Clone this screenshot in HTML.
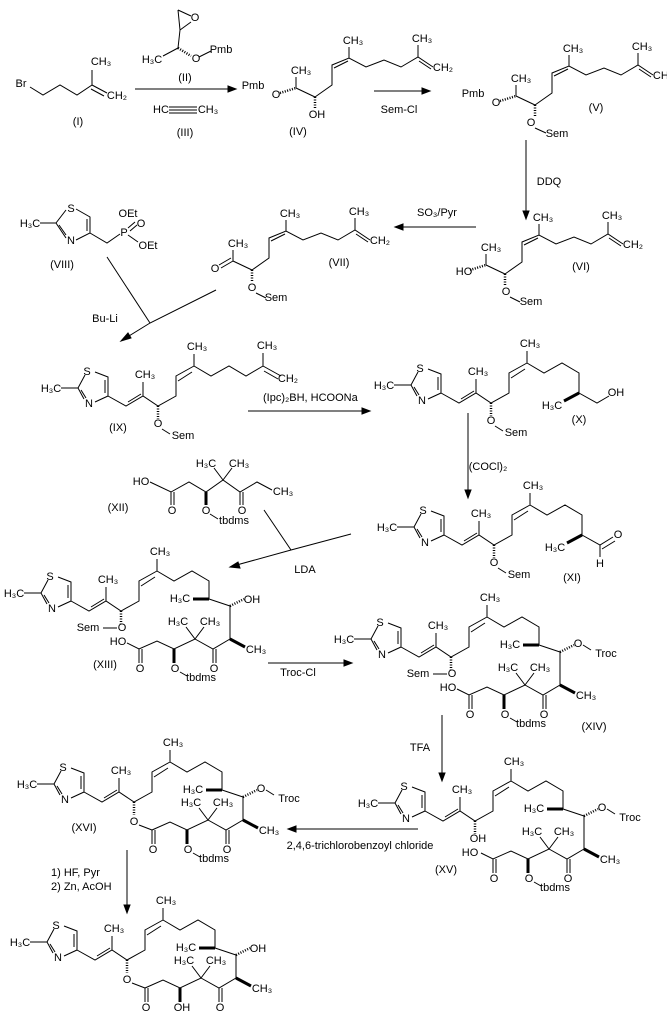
<!DOCTYPE html>
<html><head><meta charset="utf-8"><style>
html,body{margin:0;padding:0;background:#fff}
svg{display:block}
text{font-family:"Liberation Sans",sans-serif;font-size:11px;fill:#000;text-anchor:middle}
.l{text-anchor:start}
path{fill:none;stroke:#000;stroke-width:1}
.h{stroke-dasharray:1,1.5;stroke-width:2.5}
.b{stroke-width:3}
</style></head><body>
<svg width="667" height="1021" viewBox="0 0 667 1021" xmlns="http://www.w3.org/2000/svg">
<defs>
<g id="ring">
<path d="M64,46 L77,51 L77,70 L64,76 M53,73 L47,62 L54,49 M74,54 L74,67 M50,64 L55,72 M30,62 L47,62 M77,70 L95,80 L112,70 L127,80 L145,70 L145,50 L163,40 M97,76 L110,68 M112,70 L112,56 M147,55 L161,46 M163,40 L163,28"/>
<path class="h" d="M127,80 L127,93"/>
</g>
<g id="macro">
<path d="M163,40 L180,50 L198,40 L215,50 L215,68 L236,75 L236,98 L219,108 L201,98 L180,108 L163,100 L145,108 M201,98 L192,86 M201,98 L210,86 M145,108 L145,122 M148,108 L148,122 M219,108 L219,122 M222,108 L222,122"/>
<path class="b" d="M215,68 L199,68 M236,98 L251,106 M180,108 L180,122"/>
<path class="h" d="M236,75 L250,68"/>
</g>
<g id="macroO">
<path d="M163,40 L180,50 L198,40 L215,50 L215,68 L236,75 L236,108 L219,118 L201,108 L180,118 L163,110 L145,118 L133,112 M201,108 L192,96 M201,108 L210,96 M145,118 L145,132 M148,118 L148,132 M219,118 L219,132 M222,118 L222,132"/>
<path class="b" d="M215,68 L199,68 M236,108 L251,116 M180,118 L180,132"/>
<path class="h" d="M236,75 L250,68"/>
</g>
<g id="head"><path d="M296,88 L315,97 M296,88 L296,77"/><path class="h" d="M280,93 L296,88"/></g>
<g id="chain"><path d="M315,97 L332,85 L332,65 L349,58 L366,67 L384,60 L401,67 L418,57 L433,67 M349,58 L349,47 M418,57 L418,45 M334,68 L348,61 M419,61 L431,69"/></g>
</defs>

<text x="21" y="87">Br</text>
<path d="M30,87 L43,95 L60,85 L77,95 L92,85 L92,70 M92,85 L107,93 M91,89 L104,96"/>
<text x="101" y="65">CH₃</text><text x="117" y="99">CH₂</text>
<text x="78" y="125">(I)</text>
<path d="M135,89 L233,89"/><path d="M228,86 L236,89 L228,92Z" style="fill:#000"/>
<path d="M178,10 L191,16 M180,30 L191,22 M178,10 L180,30 M180,30 L178,48 M178,48 L163,56"/>
<path class="h" d="M178,48 L191,56"/>
<path d="M199,57 L211,51"/>
<text x="195" y="21">O</text><text x="152" y="63">H₃C</text><text x="196" y="62">O</text><text x="221" y="53">Pmb</text>
<text x="185" y="81">(II)</text>
<text x="161" y="113">HC</text><path d="M169,107 L197,107 M169,110 L197,110 M169,113 L197,113"/><text x="208" y="113">CH₃</text>
<text x="185" y="136">(III)</text>

<use href="#head"/><use href="#chain"/><path class="h" d="M315,97 L315,108"/>
<text x="253" y="89">Pmb</text><text x="276" y="98">O</text><text x="301" y="74">CH₃</text><text x="317" y="118">OH</text>
<text x="353" y="44">CH₃</text><text x="422" y="42">CH₃</text><text x="443" y="71">CH₂</text>
<text x="298" y="135">(IV)</text>
<path d="M374,91 L427,91"/><path d="M422,88 L430,91 L422,94Z" style="fill:#000"/>
<text x="399" y="113">Sem-Cl</text>
<g transform="translate(220,8)"><use href="#head"/><use href="#chain"/><path class="h" d="M315,97 L315,109"/>
<text x="253" y="89">Pmb</text><text x="276" y="98">O</text><text x="301" y="74">CH₃</text><text x="311" y="118">O</text><path d="M315,120 L326,125"/><text x="337" y="129">Sem</text>
<text x="353" y="44">CH₃</text><text x="422" y="42">CH₃</text><text x="443" y="71">CH₂</text></g>
<text x="596" y="111">(V)</text>
<path d="M526,140 L526,216"/><path d="M523,211 L526,219 L529,211Z" style="fill:#000"/>
<text x="549" y="185">DDQ</text>
<g transform="translate(190,177)"><use href="#head"/><use href="#chain"/><path class="h" d="M315,97 L315,109"/>
<text x="274" y="98">HO</text><text x="301" y="74">CH₃</text><text x="316" y="118">O</text><path d="M320,120 L330,125"/><text x="341" y="128">Sem</text>
<text x="353" y="44">CH₃</text><text x="422" y="42">CH₃</text><text x="443" y="71">CH₂</text></g>
<text x="581" y="270">(VI)</text>
<path d="M476,227 L398,227"/><path d="M403,224 L395,227 L403,230Z" style="fill:#000"/>
<text x="437" y="216">SO₃/Pyr</text>
<g transform="translate(-63,173)"><use href="#chain"/><path class="h" d="M315,97 L315,109"/>
<path d="M296,88 L315,97 M296,88 L296,77 M296,88 L284,95 M294,85 L282,92"/>
<text x="278" y="99">O</text><text x="301" y="74">CH₃</text><text x="315" y="118">O</text><path d="M319,120 L329,125"/><text x="339" y="128">Sem</text>
<text x="353" y="44">CH₃</text><text x="422" y="42">CH₃</text><text x="443" y="71">CH₂</text></g>
<text x="339" y="266">(VII)</text>
<path d="M76,209 L90,217 L90,233 L76,240 M66,238 L56,223 L66,210 M87,219 L87,231 M59,225 L66,235 M40,223 L56,223 M90,233 L107,243 L120,234 M128,228 L135,222 M130,231 L137,225 M128,235 L138,242"/>
<text x="71" y="212">S</text><text x="71" y="244">N</text><text x="30" y="227">H₃C</text><text x="124" y="236">P</text>
<text x="128" y="217">OEt</text><text x="141" y="227">O</text><text x="148" y="249">OEt</text>
<text x="62" y="268">(VIII)</text>
<path d="M107,257 L150,323 M216,290 L150,323 L124,339"/><path d="M128,333 L121,341 L131,338Z" style="fill:#000"/>
<text x="105" y="322">Bu-Li</text>

<g transform="translate(31,326)"><use href="#ring"/>
<path d="M163,40 L180,50 L198,40 L215,50 L232,40 L232,27 M232,40 L250,50 M233,45 L247,53"/>
<text x="56" y="49">S</text><text x="58" y="81">N</text><text x="20" y="66">H₃C</text><text x="114" y="52">CH₃</text><text x="166" y="24">CH₃</text>
<text x="236" y="23">CH₃</text><text x="257" y="56">CH₂</text>
<text x="127" y="101">O</text><path d="M131,103 L139,108"/><text x="152" y="113">Sem</text></g>
<text x="118" y="431">(IX)</text>
<path d="M248,411 L367,411"/><path d="M362,408 L370,411 L362,414Z" style="fill:#000"/>
<text x="263" y="401" class="l">(Ipc)₂BH, HCOONa</text>
<g transform="translate(364,323)"><use href="#ring"/>
<path d="M163,40 L180,50 L198,40 L215,50 L215,70 L233,80 L245,73"/><path class="b" d="M215,70 L200,78"/>
<text x="56" y="49">S</text><text x="58" y="81">N</text><text x="20" y="66">H₃C</text><text x="114" y="52">CH₃</text><text x="166" y="24">CH₃</text>
<text x="188" y="86">H₃C</text><text x="252" y="73">OH</text>
<text x="127" y="101">O</text><path d="M131,103 L139,108"/><text x="152" y="113">Sem</text></g>
<text x="579" y="423">(X)</text>
<path d="M468,413 L468,495"/><path d="M465,490 L468,498 L471,490Z" style="fill:#000"/>
<text x="488" y="470">(COCl)₂</text>
<g transform="translate(367,465)"><use href="#ring"/>
<path d="M163,40 L180,50 L198,40 L215,50 L215,70 L233,80 L246,72 M235,84 L248,76 M233,80 L233,92"/><path class="b" d="M215,70 L200,78"/>
<text x="56" y="49">S</text><text x="58" y="81">N</text><text x="20" y="66">H₃C</text><text x="114" y="52">CH₃</text><text x="166" y="24">CH₃</text>
<text x="188" y="86">H₃C</text><text x="251" y="73">O</text><text x="233" y="102">H</text>
<text x="127" y="101">O</text><path d="M131,103 L139,108"/><text x="152" y="113">Sem</text></g>
<text x="572" y="581">(XI)</text>
<path d="M150,482 L171,492 L189,482 L206,492 L223,480 L240,492 L257,482 L272,490 M171,492 L171,505 M174,492 L174,505 M240,492 L240,505 M243,492 L243,505 M223,480 L214,468 M223,480 L232,468"/>
<path class="b" d="M206,492 L206,505"/>
<text x="141" y="485">HO</text><text x="172" y="514">O</text><text x="206" y="514">O</text><path d="M210,514 L218,519"/><text x="234" y="524">tbdms</text>
<text x="206" y="467">H₃C</text><text x="239" y="467">CH₃</text><text x="242" y="514">O</text><text x="283" y="495">CH₃</text>
<text x="118" y="511">(XII)</text>
<path d="M264,510 L291,550 M351,534 L291,550 L233,566"/><path d="M238,562 L230,567 L240,568Z" style="fill:#000"/>
<text x="305" y="573">LDA</text>

<g transform="translate(-6,531)"><use href="#ring"/><use href="#macroO"/>
<text x="56" y="49">S</text><text x="58" y="81">N</text><text x="20" y="66">H₃C</text><text x="114" y="52">CH₃</text><text x="166" y="24">CH₃</text>
<text x="186" y="71">H₃C</text><text x="184" y="94">H₃C</text><text x="216" y="94">CH₃</text><text x="262" y="122">CH₃</text>
<text x="258" y="72">OH</text><text x="128" y="100">O</text><path d="M109,97 L123,97"/><text x="94" y="100">Sem</text>
<text x="124" y="114">HO</text><text x="146" y="141">O</text><text x="220" y="141">O</text>
<text x="181" y="141">O</text><path d="M186,141 L193,145"/><text x="207" y="150">tbdms</text></g>
<text x="105" y="668">(XIII)</text>
<path d="M268,663 L349,663"/><path d="M344,660 L352,663 L344,666Z" style="fill:#000"/>
<text x="298" y="676">Troc-Cl</text>
<g transform="translate(324,577)"><use href="#ring"/><use href="#macroO"/>
<text x="56" y="49">S</text><text x="58" y="81">N</text><text x="20" y="66">H₃C</text><text x="114" y="52">CH₃</text><text x="166" y="24">CH₃</text>
<text x="186" y="71">H₃C</text><text x="184" y="94">H₃C</text><text x="216" y="94">CH₃</text><text x="262" y="122">CH₃</text>
<text x="254" y="70">O</text><path d="M259,68 L267,73"/><text x="282" y="80">Troc</text>
<text x="128" y="100">O</text><path d="M109,97 L123,97"/><text x="94" y="100">Sem</text>
<text x="124" y="114">HO</text><text x="146" y="141">O</text><text x="220" y="141">O</text>
<text x="181" y="141">O</text><path d="M186,141 L193,145"/><text x="207" y="150">tbdms</text></g>
<text x="594" y="730">(XIV)</text>
<path d="M442,715 L442,778"/><path d="M439,773 L442,781 L445,773Z" style="fill:#000"/>
<text x="420" y="751">TFA</text>
<g transform="translate(348,741)"><use href="#ring"/><use href="#macroO"/>
<text x="56" y="49">S</text><text x="58" y="81">N</text><text x="20" y="66">H₃C</text><text x="114" y="52">CH₃</text><text x="166" y="24">CH₃</text>
<text x="186" y="71">H₃C</text><text x="184" y="94">H₃C</text><text x="216" y="94">CH₃</text><text x="262" y="122">CH₃</text>
<text x="254" y="70">O</text><path d="M259,68 L267,73"/><text x="282" y="80">Troc</text>
<text x="130" y="101">OH</text>
<text x="122" y="115">HO</text><text x="146" y="141">O</text><text x="220" y="141">O</text>
<text x="181" y="141">O</text><path d="M186,141 L193,145"/><text x="207" y="150">tbdms</text></g>
<text x="446" y="873">(XV)</text>
<path d="M418,829 L291,829"/><path d="M296,826 L288,829 L296,832Z" style="fill:#000"/>
<text x="360" y="849">2,4,6-trichlorobenzoyl chloride</text>
<g transform="translate(7,722)"><use href="#ring"/><use href="#macro"/><path d="M132,103 L145,108"/>
<text x="56" y="49">S</text><text x="58" y="81">N</text><text x="20" y="66">H₃C</text><text x="114" y="52">CH₃</text><text x="166" y="24">CH₃</text>
<text x="186" y="71">H₃C</text><text x="184" y="84">H₃C</text><text x="216" y="84">CH₃</text><text x="262" y="112">CH₃</text>
<text x="254" y="70">O</text><path d="M259,68 L267,73"/><text x="282" y="80">Troc</text>
<text x="127" y="103">O</text><text x="146" y="131">O</text><text x="220" y="131">O</text>
<text x="181" y="131">O</text><path d="M186,131 L193,135"/><text x="207" y="140">tbdms</text></g>
<text x="84" y="831">(XVI)</text>
<path d="M127,850 L127,910"/><path d="M124,905 L127,913 L130,905Z" style="fill:#000"/>
<text x="51" y="876" class="l">1) HF, Pyr</text><text x="51" y="890" class="l">2) Zn, AcOH</text>
<g transform="translate(0,880)"><use href="#ring"/><use href="#macro"/><path d="M132,103 L145,108"/>
<text x="56" y="49">S</text><text x="58" y="81">N</text><text x="20" y="66">H₃C</text><text x="114" y="52">CH₃</text><text x="166" y="24">CH₃</text>
<text x="186" y="71">H₃C</text><text x="184" y="84">H₃C</text><text x="216" y="84">CH₃</text><text x="262" y="112">CH₃</text>
<text x="258" y="72">OH</text>
<text x="127" y="103">O</text><text x="146" y="131">O</text><text x="220" y="131">O</text><text x="182" y="131">OH</text></g>
</svg>
</body></html>
